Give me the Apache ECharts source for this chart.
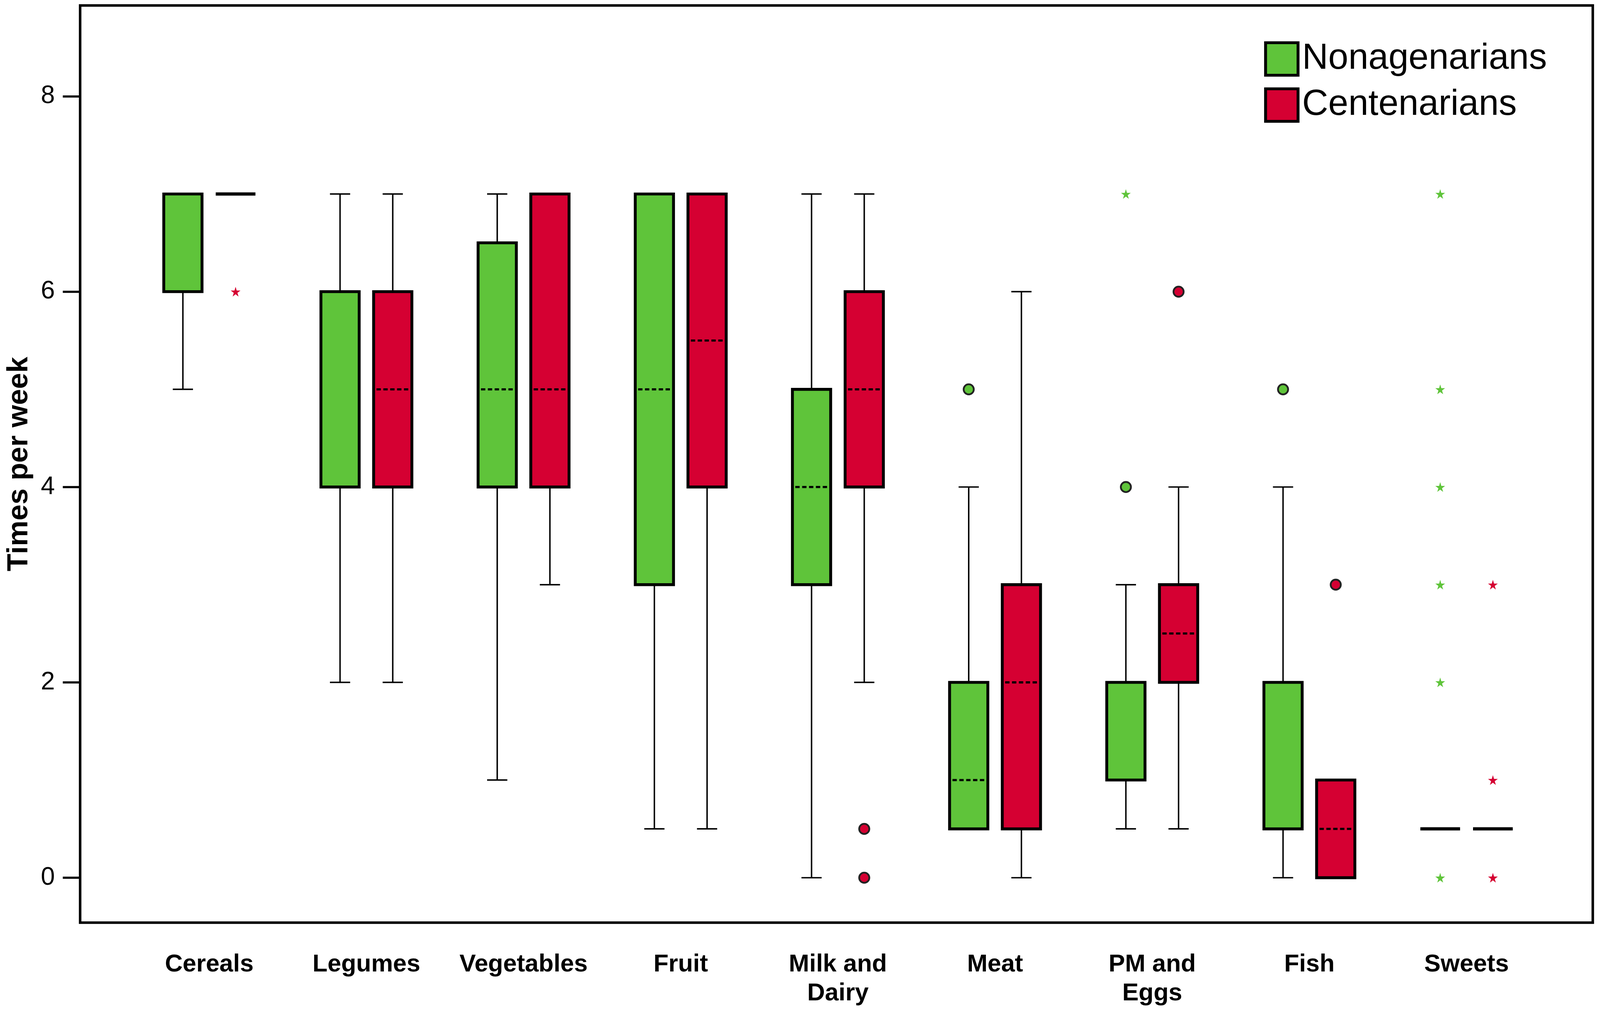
<!DOCTYPE html>
<html>
<head>
<meta charset="utf-8">
<script src="https://cdn.jsdelivr.net/npm/echarts@6/dist/echarts.min.js"></script>
<style>
  html, body { margin: 0; padding: 0; background: #fff; overflow: hidden; }
  #chart { width: 100vw; height: 100vh; }
</style>
</head>
<body>
<div id="chart"></div>
<script>
var categories = ['Cereals', 'Legumes', 'Vegetables', 'Fruit', 'Milk and\nDairy', 'Meat', 'PM and\nEggs', 'Fish', 'Sweets'];
// [min, Q1, median, Q3, max]
var nonaBox = [[5, 6, 7, 7, 7], [2, 4, 4, 6, 7], [1, 4, 5, 6.5, 7], [0.5, 3, 5, 7, 7], [0, 3, 4, 5, 7],
               [0.5, 0.5, 1, 2, 4], [0.5, 1, 2, 2, 3], [0, 0.5, 0.5, 2, 4], [0.5, 0.5, 0.5, 0.5, 0.5]];
var centBox = [[7, 7, 7, 7, 7], [2, 4, 5, 6, 7], [3, 4, 5, 7, 7], [0.5, 4, 5.5, 7, 7], [2, 4, 5, 6, 7],
               [0, 0.5, 2, 3, 6], [0.5, 2, 2.5, 3, 4], [0, 0, 0.5, 1, 1], [0.5, 0.5, 0.5, 0.5, 0.5]];
// outliers [category index, value]
var nonaCircles = [[5, 5], [6, 4], [7, 5]];
var nonaStars = [[6, 7], [8, 7], [8, 5], [8, 4], [8, 3], [8, 2], [8, 0]];
var centCircles = [[4, 0.5], [4, 0], [6, 6], [7, 3]];
var centStars = [[0, 6], [8, 3], [8, 1], [8, 0]];
var yTicks = [0, 2, 4, 6, 8];

var GREEN = '#5fc43a';
var RED = '#d50032';
var FONT = '"Liberation Sans", Arial, sans-serif';

// sizes below are given for a 4433 x 2601 canvas and scaled to the real window
var dom = document.getElementById('chart');
var S = dom.clientWidth / 4433;
var SY = dom.clientHeight / 2601;
function px(v) { return v * S; }
function py(v) { return v * SY; }

var OFF = px(73);        // half distance between paired boxes
var BOX_W = px(106);
var CAP_W = px(56);
var STAR = 'path://M50,0 L61,35 L98,35 L68,57 L79,91 L50,70 L21,91 L32,57 L2,35 L39,35 Z';

var myChart = echarts.init(dom);

function boxRender(offset, color) {
    return function (params, api) {
        var idx = api.value(0);
        var x = api.coord([idx, 0])[0] + offset;
        function y(i) { return api.coord([idx, api.value(i)])[1]; }
        var yMin = y(1), yQ1 = y(2), yMed = y(3), yQ3 = y(4), yMax = y(5);
        var line = { stroke: '#000', lineWidth: px(4) };
        var kids = [];
        if (yMax < yQ3 - 0.5) {
            kids.push({ type: 'line', shape: { x1: x, y1: yQ3, x2: x, y2: yMax }, style: line });
            kids.push({ type: 'line', shape: { x1: x - CAP_W / 2, y1: yMax, x2: x + CAP_W / 2, y2: yMax }, style: line });
        }
        if (yMin > yQ1 + 0.5) {
            kids.push({ type: 'line', shape: { x1: x, y1: yQ1, x2: x, y2: yMin }, style: line });
            kids.push({ type: 'line', shape: { x1: x - CAP_W / 2, y1: yMin, x2: x + CAP_W / 2, y2: yMin }, style: line });
        }
        if (yQ1 - yQ3 > 0.5) {
            kids.push({ type: 'rect', shape: { x: x - BOX_W / 2, y: yQ3, width: BOX_W, height: yQ1 - yQ3 },
                style: { fill: color, stroke: '#000', lineWidth: px(8) } });
            kids.push({ type: 'line', shape: { x1: x - BOX_W / 2 + px(8), y1: yMed, x2: x + BOX_W / 2 - px(8), y2: yMed },
                style: { stroke: '#000', lineWidth: px(6), lineDash: [px(12), px(7)] } });
        } else {
            kids.push({ type: 'line', shape: { x1: x - px(55), y1: yQ1, x2: x + px(55), y2: yQ1 },
                style: { stroke: '#000', lineWidth: px(9) } });
        }
        return { type: 'group', children: kids };
    };
}

function toData(list) {
    return list.map(function (d, i) { return [i].concat(d); });
}

var option = {
    animation: false,
    backgroundColor: '#fff',
    textStyle: { fontFamily: FONT },
    legend: {
        orient: 'vertical',
        left: px(3497),
        top: py(100),
        itemWidth: px(90),
        itemHeight: px(90),
        itemGap: py(26),
        textStyle: { fontSize: px(100), color: '#000', fontFamily: FONT, padding: [0, 0, 0, px(6)] },
        data: [
            { name: 'Nonagenarians', icon: 'rect', itemStyle: { color: GREEN, borderColor: '#000', borderWidth: px(8) } },
            { name: 'Centenarians', icon: 'rect', itemStyle: { color: RED, borderColor: '#000', borderWidth: px(8) } }
        ]
    },
    grid: [
        { left: px(222), right: px(20), top: py(14), bottom: py(239), show: true, borderColor: '#000', borderWidth: px(7) },
        { left: px(362), right: px(152), top: py(14), bottom: py(239) }
    ],
    xAxis: [
        { type: 'value', gridIndex: 0, show: false },
        {
            type: 'category', gridIndex: 1, data: categories, boundaryGap: true,
            axisLine: { show: false },
            axisTick: { alignWithLabel: true, length: py(50), lineStyle: { color: '#000', width: px(6) } },
            axisLabel: { interval: 0, color: '#000', fontSize: px(68), fontWeight: 'bold', lineHeight: px(80),
                margin: py(71), fontFamily: FONT }
        }
    ],
    yAxis: [
        {
            type: 'value', gridIndex: 0, min: -0.46, max: 8.93,
            name: 'Times per week', nameLocation: 'middle', nameGap: px(128),
            nameTextStyle: { fontSize: px(80), fontWeight: 'bold', color: '#000', fontFamily: FONT },
            axisLine: { show: false },
            splitLine: { show: false },
            axisTick: { customValues: yTicks, length: px(48), lineStyle: { color: '#000', width: px(6) } },
            axisLabel: { customValues: yTicks, fontSize: px(70), color: '#000', margin: px(70), fontFamily: FONT }
        },
        { type: 'value', gridIndex: 1, min: -0.46, max: 8.93, show: false }
    ],
    series: [
        {
            name: 'Nonagenarians', type: 'custom', xAxisIndex: 1, yAxisIndex: 1,
            itemStyle: { color: GREEN },
            renderItem: boxRender(-OFF, GREEN),
            encode: { x: 0, y: [1, 2, 3, 4, 5] },
            data: toData(nonaBox)
        },
        {
            name: 'Centenarians', type: 'custom', xAxisIndex: 1, yAxisIndex: 1,
            itemStyle: { color: RED },
            renderItem: boxRender(OFF, RED),
            encode: { x: 0, y: [1, 2, 3, 4, 5] },
            data: toData(centBox)
        },
        {
            name: 'Nonagenarians', type: 'scatter', xAxisIndex: 1, yAxisIndex: 1,
            symbol: 'circle', symbolSize: px(28), symbolOffset: [-OFF, 0],
            itemStyle: { color: GREEN, borderColor: '#222', borderWidth: px(5), opacity: 1 },
            data: nonaCircles
        },
        {
            name: 'Nonagenarians', type: 'scatter', xAxisIndex: 1, yAxisIndex: 1,
            symbol: STAR, symbolSize: px(27), symbolOffset: [-OFF, 0],
            itemStyle: { color: GREEN, opacity: 1 },
            data: nonaStars
        },
        {
            name: 'Centenarians', type: 'scatter', xAxisIndex: 1, yAxisIndex: 1,
            symbol: 'circle', symbolSize: px(28), symbolOffset: [OFF, 0],
            itemStyle: { color: RED, borderColor: '#222', borderWidth: px(5), opacity: 1 },
            data: centCircles
        },
        {
            name: 'Centenarians', type: 'scatter', xAxisIndex: 1, yAxisIndex: 1,
            symbol: STAR, symbolSize: px(27), symbolOffset: [OFF, 0],
            itemStyle: { color: RED, opacity: 1 },
            data: centStars
        }
    ]
};

myChart.setOption(option);
</script>
</body>
</html>
